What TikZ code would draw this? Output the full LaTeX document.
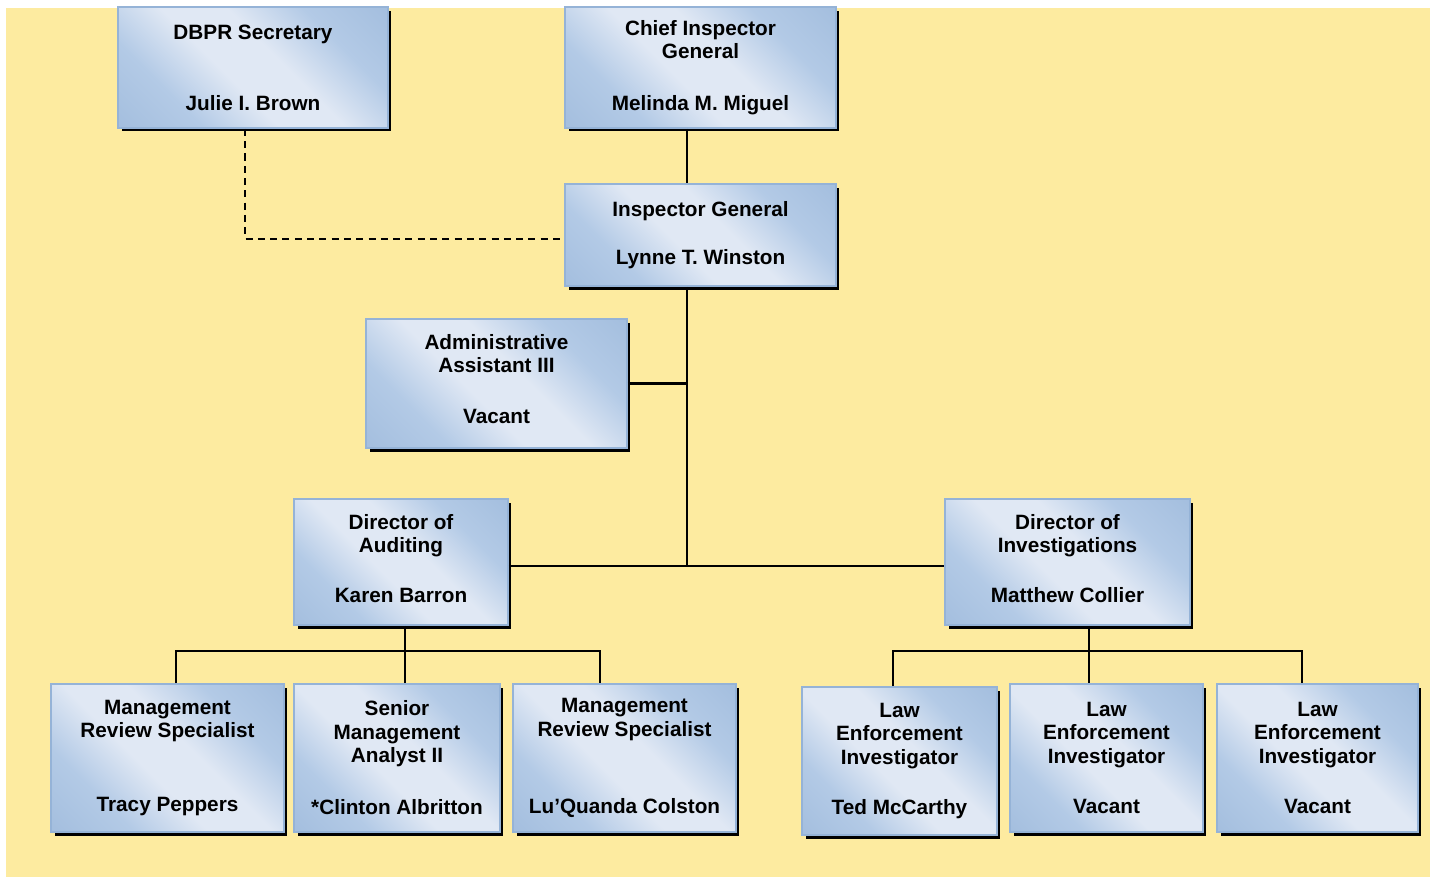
\documentclass[tikz,border=0pt]{standalone}
\usepackage{fontspec}
\setmainfont{Liberation Sans}
\usetikzlibrary{shadows}
\definecolor{chartbg}{HTML}{FDEBA0}
\definecolor{boxdark}{HTML}{95B3D7}
\definecolor{boxedge}{HTML}{B3CAE6}
\definecolor{boxlight}{HTML}{E0E8F4}
\pgfdeclareverticalshading{postshade}{100bp}{color(0bp)=(boxdark); color(30bp)=(boxedge); color(44bp)=(boxlight); color(56bp)=(boxlight); color(70bp)=(boxedge); color(100bp)=(boxdark)}
\begin{document}
\begin{tikzpicture}[x=0.02cm,y=-0.02cm,
	post/.style={draw=boxdark,line width=1pt,shading=postshade,shading angle=-45,general shadow={fill=black,shadow xshift=0.07cm,shadow yshift=-0.07cm},align=center,inner sep=0pt,font=\bfseries\fontsize{11.8}{13.3}\selectfont},
	link/.style={line width=1.5pt}]
	\useasboundingbox (0,0) rectangle (1433,877);
	\fill[chartbg] (6,8) rectangle (1430,877);
	\node[post,minimum width=5.4cm,minimum height=2.42cm] (dbpr) at (253,67.5) {DBPR Secretary\\[27pt]Julie I. Brown};
	\node[post,minimum width=5.42cm,minimum height=2.42cm] (cig) at (700.5,67.5) {Chief Inspector\\General\\[16pt]Melinda M. Miguel};
	\node[post,minimum width=5.42cm,minimum height=2.04cm] (ig) at (700.5,235) {Inspector General\\[13.6pt]Lynne T. Winston};
	\node[post,minimum width=5.22cm,minimum height=2.58cm] (admin) at (496.5,383.5) {Administrative\\Assistant III\\[16pt]Vacant\\[-8.2pt]\mbox{}};
	\node[post,minimum width=4.28cm,minimum height=2.52cm] (aud) at (401,562) {Director of\\Auditing\\[15.3pt]Karen Barron\\[-9.3pt]\mbox{}};
	\node[post,minimum width=4.9cm,minimum height=2.52cm] (inv) at (1067.5,562) {Director of\\Investigations\\[15.3pt]Matthew Collier\\[-9.3pt]\mbox{}};
	\node[post,minimum width=4.66cm,minimum height=2.96cm] (mrsa) at (167.5,758) {Management\\Review Specialist\\[29pt]Tracy Peppers};
	\node[post,minimum width=4.12cm,minimum height=2.96cm] (sma) at (397,758) {Senior\\Management\\Analyst II\\[16.4pt]*Clinton Albritton};
	\node[post,minimum width=4.46cm,minimum height=2.96cm] (mrsb) at (624.5,758) {Management\\Review Specialist\\[30.6pt]Lu’Quanda Colston};
	\node[post,minimum width=3.9cm,minimum height=2.96cm] (leia) at (899.5,761) {Law\\Enforcement\\Investigator\\[15.3pt]Ted McCarthy};
	\node[post,minimum width=3.86cm,minimum height=2.96cm] (leib) at (1106.5,758) {Law\\Enforcement\\Investigator\\[15.3pt]Vacant};
	\node[post,minimum width=4.02cm,minimum height=2.96cm] (leic) at (1317.5,758) {Law\\Enforcement\\Investigator\\[15.3pt]Vacant};
	\coordinate (spine) at (687,566);
	\coordinate (dash) at (245,239);
	\coordinate (audl) at (176,651);
	\coordinate (audm) at (405,651);
	\coordinate (audr) at (600,651);
	\coordinate (invl) at (893,651);
	\coordinate (invm) at (1089,651);
	\coordinate (invr) at (1302,651);
	\draw[link] (cig.south -| spine) -- (ig.north -| spine);
	\draw[link] (ig.south -| spine) -- (spine);
	\draw[link] (admin.east) -- (admin.east -| spine);
	\draw[link] (aud.east |- spine) -- (inv.west |- spine);
	\draw[link,dash pattern=on 4pt off 3pt] (dbpr.south -| dash) -- (dash) -- (dash -| ig.west);
	\draw[link] (aud.south -| audm) -- (sma.north -| audm);
	\draw[link] (mrsa.north -| audl) -- (audl) -- (audr) -- (mrsb.north -| audr);
	\draw[link] (inv.south -| invm) -- (leib.north -| invm);
	\draw[link] (leia.north -| invl) -- (invl) -- (invr) -- (leic.north -| invr);
\end{tikzpicture}
\end{document}
